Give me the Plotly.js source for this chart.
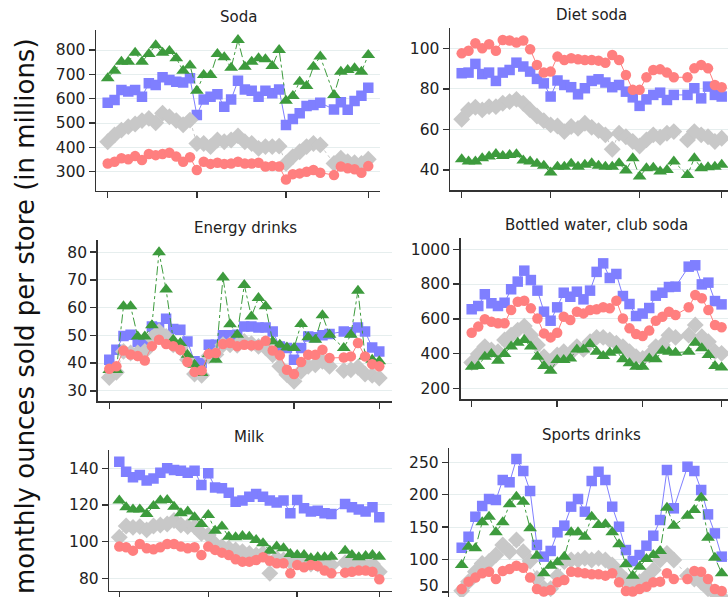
<!DOCTYPE html>
<html><head><meta charset="utf-8">
<script src="https://cdn.plot.ly/plotly-3.0.1.min.js"></script>
<style>html,body{margin:0;padding:0;background:#fff;overflow:hidden}#chart{width:728px;height:597px}</style>
</head><body><div id="chart"></div>
<script>
// ---- data (index 32 missing in every series) ----
const periods = [0,1,2,3,4,5,6,7,8,9,10,11,12,13,14,15,16,17,18,19,20,21,22,23,24,25,26,27,28,29,30,31,32,33,34,35,36,37,38];
const xTicks = [0,13,26,38];
const panelTitles = ["Soda","Diet soda","Energy drinks","Bottled water, club soda","Milk","Sports drinks"];
const yTitle = "monthly ounces sold per store (in millions)";

const sodaBlue  = [583,595,636,629,636,608,663,656,688,677,670,666,684,533,597,608,618,567,597,674,638,633,608,633,622,638,492,516,540,570,574,583,null,556,585,555,590,612,645];
const sodaGrey  = [423,451,471,485,496,510,519,501,540,526,510,493,512,416,416,403,430,423,430,447,423,416,396,403,403,405,334,362,382,403,416,410,null,334,355,341,337,334,351];
const sodaGreen = [684,715,752,752,789,752,784,820,789,796,766,715,736,633,697,697,784,770,727,841,731,752,766,762,734,800,592,611,670,652,731,773,null,615,711,718,725,711,779];
const sodaRed   = [334,341,355,351,364,348,373,368,373,378,362,341,359,307,341,332,337,332,334,341,334,334,337,321,323,321,268,290,293,300,307,296,null,286,321,314,310,296,323];

const dietBlue  = [87.7,88,92.3,87.3,88,83.9,88,89.3,92.9,91,88.5,84.9,82.7,76.2,84.1,81.9,80.8,77.3,80.3,83.9,84.7,83.1,80.8,81.9,78.6,75.8,71.6,74.8,77,78.1,74.5,77,null,77,80.3,75.3,81.1,77,76.2];
const dietGrey  = [65,69.6,70.9,69.6,71.2,71.2,72.9,73.7,74.8,72.9,69.6,66.6,64.3,62.2,61.7,58.9,61.4,60.5,63,61,59.4,57.3,50.2,58.1,56.4,54,51.8,54.8,57.3,56.1,58.1,58.9,null,54.8,58.9,57.3,56.4,54,55.6];
const dietGreen = [45.3,44.1,44.1,45.8,46.6,47.9,46.9,47.4,47.7,44.6,44.1,43,42,38.7,41.6,41.6,43,41.6,42.5,43.3,42,41.6,41.6,43.3,39.7,45.8,36.7,40.8,41.1,39.2,40,44.1,null,37.5,45.8,40.8,41.3,41.6,42.5];
const dietRed   = [97.5,98.8,102.5,100,102,98.8,104.1,103.8,102.8,103.8,99.5,91.8,88,88.5,95.9,94.2,95.1,94.6,94.2,94.2,93.9,92.9,96.7,94.2,86.8,79.5,79.5,85.7,89.3,89.6,88,85.7,null,85.7,90.1,91.8,90.1,81.9,80.8];

const energyBlue  = [41.2,44.8,49.8,50.2,47.6,47.2,53.2,52.8,56,52.3,52,47.8,40.6,40,46.6,46.6,50,50,50.2,53.2,53.2,52.8,52.8,51.4,46,45.4,41.2,45.4,49.6,49.3,50,50.5,null,51.4,51.1,52.8,51.4,45.6,44.2];
const energyGrey  = [34.8,36.7,44.2,43.6,43.6,44.2,49,51.4,49.6,46.6,45.4,41.2,36,35.6,42.5,43.1,46.6,46.6,46.4,47.8,47,46,45.5,43,38.8,35.8,33.4,37,38.8,39.4,40.6,38.8,null,37.3,37.6,38.5,36,35.6,34.6];
const energyGreen = [37.5,37.5,60.5,60.5,49.6,49.6,53.6,80,66.5,48.4,47.2,43,39.4,36.4,43.3,41.2,70.9,54,50.2,68.2,56.8,63.5,60.5,47.8,46.6,45.6,45.4,54.1,49.3,48.4,57.2,50.2,null,45.4,50.2,66.1,42.4,41.2,40.6];
const energyRed   = [37.9,38.8,44.5,43.1,42.5,40.9,46.1,48.4,46.9,46.1,44.8,40.4,36.8,37.3,43.3,43.6,46.9,47.2,46.1,46.6,46.4,46.4,48,44.5,42.8,37.6,36,40.4,43,43,44.8,41.8,null,42,42.4,47.2,42.4,39.6,38.8];

const waterBlue  = [655,674,741,689,674,693,770,814,877,823,762,641,589,666,750,727,756,712,762,870,919,835,858,731,685,616,630,662,733,750,783,785,null,900,908,798,808,702,683];
const waterGrey  = [348,397,440,420,411,478,506,535,558,506,449,382,348,392,411,401,440,424,468,493,493,478,459,440,411,382,372,392,440,449,506,493,null,506,564,497,468,411,401];
const waterGreen = [324,328,382,397,359,397,440,462,478,440,382,328,301,363,363,372,424,424,455,411,386,405,416,367,344,324,324,372,367,416,411,405,null,411,462,430,392,328,320];
const waterRed   = [520,555,597,583,574,574,651,698,704,660,602,516,493,520,612,593,641,631,651,655,666,660,704,602,545,512,501,532,589,612,641,622,null,666,737,718,651,564,551];

const milkBlue  = [143.6,138.2,135.1,136.4,133.3,134.5,137.6,140,139.1,138.7,137.6,138.7,130.9,137.3,129.6,129.1,126.7,121.8,122.4,124.5,126,124.5,122.4,121.3,122.4,115.5,122.7,118.2,116.4,116.9,115.5,115.1,null,120.5,118.7,117.6,116.4,118.7,113.3];
const milkGrey  = [102.4,108.5,107.8,108.2,106.4,108.5,109.1,109.6,111.5,109.1,108.2,108.2,104.5,103.6,98.7,97.3,96.4,95.5,94.5,93.6,92.7,93.6,82.7,90.9,90,89.1,89.1,88.2,87.8,87.8,87.3,87.3,null,88.5,88.5,87.8,87.3,87.8,83.6];
const milkGreen = [122.4,118.7,117.6,117.6,115.1,119.5,122.4,122.7,119.1,115.5,116.4,113.3,109.6,114.5,106,108.2,102.7,102.4,103.1,102.7,100.9,99.1,95.1,97.3,96.4,93.3,92.7,92.7,90.9,91.5,91.5,91.8,null,95.1,92.7,91.5,92.2,92.7,91.8];
const milkRed   = [97.3,96.9,95.1,98.7,96.4,95.8,96.9,98.7,98.7,97.3,96.4,96.9,92.7,97.3,95.5,94,92.7,90.4,89.1,89.1,90,91.5,89.6,88.2,88.2,82.7,87.3,86,87.3,86.7,84.2,82.7,null,83.1,83.6,84.2,84.2,83.6,79.5];

const sportsBlue  = [118.4,135.3,166.1,182.6,193.4,191.9,222.7,219.1,255,236.5,205.7,122.5,104.5,113.3,142,152.3,181.6,193.4,173.9,221.2,235.6,222.7,181.6,150.7,114.7,97.7,107,121.4,136.8,161,238.1,179,null,243.2,236.5,207.2,169.7,140.4,104.5];
const sportsGrey  = [52,66,81.3,94,97,107,122.5,112.2,130.2,112.2,97.7,71,55.7,55,75,96.8,99.4,99.4,102,99.3,102,99.3,91.6,78.8,68.5,60.8,66,73.7,84,99.3,109.6,99.3,null,75,70,65,55,48,42];
const sportsGreen = [91.7,119.9,117.4,157.5,166.2,142,157.5,185.2,197,189.3,148.2,106,78.8,90.6,95.8,104.5,142,142,135.3,166,153.3,154.3,142,123.5,92.7,75.2,89.1,100.9,107,113.2,180,152.3,null,167.7,176.4,195.4,133.8,103,78.8];
const sportsRed   = [54.7,66,72.2,78.8,81.3,70,82.4,85.5,90.6,87.5,72.2,54.7,50.6,53.1,65,68.5,81.3,80.3,78.8,77.3,77.3,75.2,78.8,65,51.6,50.6,54.7,58.2,65,66,78.8,70,null,70,82.4,81.3,70,54.7,51.6];

const yTickSets = [[300,400,500,600,700,800],[40,60,80,100],[30,40,50,60,70,80],[200,400,600,800,1000],[80,100,120,140],[50,100,150,200,250]];

// ---- layout geometry (pixels in a 728x597 page) ----
const W = 728, H = 597;
const panels = [
  {series:[sodaBlue,sodaGrey,sodaGreen,sodaRed],       px:[96,380],    py:[30,190.7],  xr:[-1.706,39.71], yr:[221.9,882.2], title:[238,17],   showX:true},
  {series:[dietBlue,dietGrey,dietGreen,dietRed],       px:[450,728],   py:[28,190],    xr:[-1.71,38.92],  yr:[30.1,110],    title:[591.7,15], showX:true},
  {series:[energyBlue,energyGrey,energyGreen,energyRed],px:[97.7,392], py:[240,401],   xr:[-1.63,39.79],  yr:[26.3,84.4],   title:[245,228],  showX:true},
  {series:[waterBlue,waterGrey,waterGreen,waterRed],   px:[460.7,728], py:[238,399],   xr:[-1.67,38.98],  yr:[138.4,1065],  title:[596.7,225],showX:true},
  {series:[milkBlue,milkGrey,milkGreen,milkRed],       px:[109.3,391.7],py:[450,590.7],xr:[-1.46,39.81],  yr:[73.24,150],   title:[249.3,437],showX:true},
  {series:[sportsBlue,sportsGrey,sportsGreen,sportsRed],px:[449.3,728],py:[447.7,597], xr:[-1.81,38.92],  yr:[42.3,272.5],  title:[591.7,435],showX:false}
];
const styles = [
  {color:'#7f7fff', symbol:'square',       size:10.5, dash:'solid'},
  {color:'#c8c8c8', symbol:'diamond',      size:13,   dash:'dot'},
  {color:'#3d9b3d', symbol:'triangle-up',  size:12,   dash:'dashdot'},
  {color:'#ff7f7f', symbol:'circle',       size:10.5, dash:'solid'}
];
const FONT = 'DejaVu Sans, Liberation Sans, Arial, sans-serif';
const TICKFONT = {family:FONT, size:15.5, color:'#222'};
const traces = [];
const layout = {
  width:W, height:H, margin:{l:0,r:0,t:0,b:0}, paper_bgcolor:'#fff', plot_bgcolor:'#fff',
  showlegend:false, font:{family:FONT, size:15, color:'#222'}, annotations:[]
};
panels.forEach((p,k)=>{
  const n = k===0 ? '' : String(k+1);
  const xa = 'xaxis'+n, ya = 'yaxis'+n;
  layout[xa] = {
    domain:[p.px[0]/W, p.px[1]/W], range:p.xr, anchor:'y'+n,
    showgrid:false, zeroline:false, showline:p.showX, linecolor:'#333', linewidth:1.5,
    ticks:p.showX?'outside':'', ticklen:6, tickwidth:1.5, tickcolor:'#333',
    tickvals:xTicks, showticklabels:false
  };
  layout[ya] = {
    domain:[1-p.py[1]/H, 1-p.py[0]/H], range:p.yr, anchor:'x'+n,
    showgrid:true, gridcolor:'#e6eeee', gridwidth:1, zeroline:false,
    showline:true, linecolor:'#333', linewidth:1.5,
    ticks:'outside', ticklen:6, tickwidth:1.5, tickcolor:'#333',
    tickvals:yTickSets[k], tickfont:TICKFONT
  };
  p.series.forEach((vals,j)=>{
    const s = styles[j];
    traces.push({
      type:'scatter', mode:'lines+markers', x:periods, y:vals,
      xaxis:'x'+n, yaxis:'y'+n, connectgaps:true,
      line:{color:s.color, width:1, dash:s.dash},
      marker:{color:s.color, symbol:s.symbol, size:s.size, line:{width:0}},
      hoverinfo:'skip'
    });
  });
  layout.annotations.push({
    text:panelTitles[k], xref:'paper', yref:'paper',
    x:p.title[0]/W, y:1-p.title[1]/H, xanchor:'center', yanchor:'middle',
    showarrow:false, font:{family:FONT, size:15, color:'#222'}
  });
});
// Sports drinks: lowest tick label sits on the page edge; keep the tick mark on the axis
// and write its label as an annotation lifted just enough to stay on the page
const sportsTicks = yTickSets[5];
layout.yaxis6.ticktext = sportsTicks.map(v => v === sportsTicks[0] ? '' : String(v));
layout.annotations.push({
  text:String(sportsTicks[0]), xref:'paper', yref:'paper',
  x:(449.3-9)/W, y:1-596/H, xanchor:'right', yanchor:'bottom',
  showarrow:false, font:TICKFONT, borderpad:0
});
layout.annotations.push({
  text:yTitle, xref:'paper', yref:'paper', x:25/W, y:1-316/H,
  xanchor:'center', yanchor:'middle', textangle:-90, showarrow:false,
  font:{family:FONT, size:26, color:'#111'}
});
Plotly.newPlot('chart', traces, layout, {staticPlot:true, displayModeBar:false});
</script>
</body></html>
